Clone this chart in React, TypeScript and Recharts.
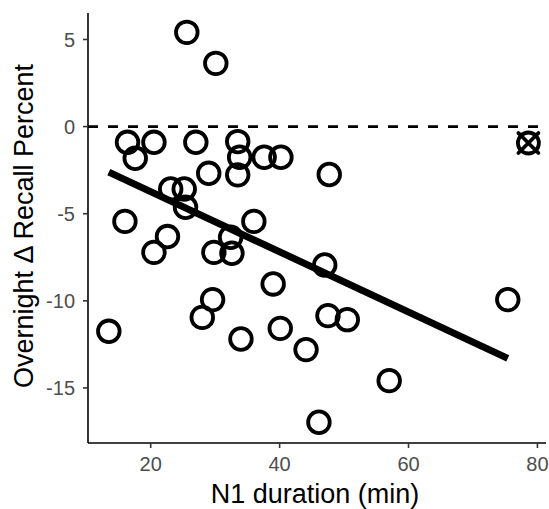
import { ScatterChart, Scatter, XAxis, YAxis, ReferenceLine } from 'recharts';

// N1 duration (min) vs overnight change in recall
const n1Duration = [
  25.6, 30.1, 16.4, 20.5, 17.6, 27.0, 33.5, 33.8, 37.6, 40.2, 29.0, 33.5,
  47.7, 23.1, 25.2, 25.4, 16.0, 36.0, 22.6, 20.5, 29.8, 32.6, 32.4, 47.0,
  39.0, 29.6, 28.0, 13.5, 34.0, 40.1, 47.5, 50.5, 44.1, 46.1, 57.0, 75.4,
];
const recallDelta = [
  5.41, 3.63, -0.9, -0.9, -1.82, -0.9, -0.86, -1.76, -1.76, -1.76, -2.68, -2.77,
  -2.75, -3.58, -3.58, -4.63, -5.44, -5.44, -6.31, -7.22, -7.22, -7.27, -6.35, -7.94,
  -9.03, -9.93, -10.95, -11.75, -12.19, -11.58, -10.85, -11.08, -12.8, -16.97, -14.58, -9.93,
];

// excluded subject (drawn as circled cross)
const outlierX = [78.6];
const outlierY = [-0.94];

// fitted line endpoints
const trendX = [13.5, 75.4];
const trendY = [-2.61, -13.3];

const xTicks = [20, 40, 60, 80];
const yTicks = [-15, -10, -5, 0, 5];

const points = n1Duration.map((x, i) => ({ x, y: recallDelta[i] }));
const outliers = outlierX.map((x, i) => ({ x, y: outlierY[i] }));

const font = '"Liberation Sans", Arial, sans-serif';
const tickStyle = { fill: '#4D4D4D', fontSize: 20, fontFamily: font };

const OpenCircle = (props: any) => (
  <circle cx={props.cx} cy={props.cy} r={10.8} fill="none" stroke="#000" strokeWidth={3.8} />
);

const CircleCross = (props: any) => {
  const { cx, cy } = props;
  const d = 10;
  return (
    <g stroke="#000" strokeWidth={3.8} fill="none">
      <circle cx={cx} cy={cy} r={10.5} />
      <line x1={cx - d} y1={cy - d} x2={cx + d} y2={cy + d} strokeLinecap="round" />
      <line x1={cx - d} y1={cy + d} x2={cx + d} y2={cy - d} strokeLinecap="round" />
    </g>
  );
};

export default function App() {
  return (
    <div style={{ position: 'absolute', left: 0, top: 0, width: 549, height: 509, background: '#fff' }}>
      <ScatterChart width={549} height={509} margin={{ top: 13, right: 3, left: 0, bottom: 0 }}>
        <XAxis
          type="number"
          dataKey="x"
          domain={[10.27, 81.33]}
          ticks={xTicks}
          allowDataOverflow
          height={66}
          tick={tickStyle}
          tickSize={5}
          tickMargin={9}
          axisLine={{ stroke: '#000', strokeWidth: 1.6 }}
          tickLine={{ stroke: '#333', strokeWidth: 1.6 }}
        />
        <YAxis
          type="number"
          dataKey="y"
          domain={[-18.16, 6.52]}
          ticks={yTicks}
          allowDataOverflow
          width={88}
          tick={tickStyle}
          tickSize={5}
          tickMargin={8}
          axisLine={{ stroke: '#000', strokeWidth: 1.6 }}
          tickLine={{ stroke: '#333', strokeWidth: 1.6 }}
        />
        <ReferenceLine y={0} stroke="#000" strokeWidth={2.6} strokeDasharray="10 10" />
        <Scatter data={points} shape={OpenCircle} isAnimationActive={false} />
        <Scatter data={outliers} shape={CircleCross} isAnimationActive={false} />
        <ReferenceLine
          segment={[
            { x: trendX[0], y: trendY[0] },
            { x: trendX[1], y: trendY[1] },
          ]}
          stroke="#000"
          strokeWidth={7}
        />
      </ScatterChart>
      <div
        style={{
          position: 'absolute',
          left: 315,
          top: 494,
          transform: 'translate(-50%, -50%)',
          fontFamily: font,
          fontSize: 27,
          whiteSpace: 'nowrap',
          color: '#000',
        }}
      >
        N1 duration (min)
      </div>
      <div
        style={{
          position: 'absolute',
          left: 24,
          top: 226,
          transform: 'translate(-50%, -50%) rotate(-90deg)',
          fontFamily: font,
          fontSize: 27,
          whiteSpace: 'nowrap',
          color: '#000',
        }}
      >
        Overnight Δ Recall Percent
      </div>
    </div>
  );
}
